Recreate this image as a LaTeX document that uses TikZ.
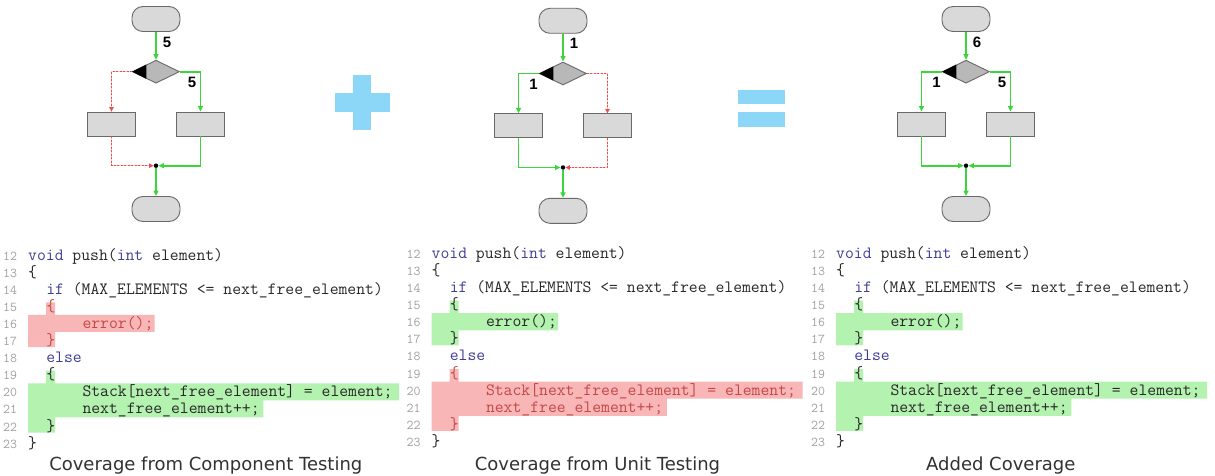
\documentclass[tikz,border=0pt]{standalone}
\usepackage{fontspec}
\setmainfont{DejaVu Sans}
\newfontfamily\numfont{Liberation Sans}
\usetikzlibrary{shapes.geometric,arrows.meta,calc}

\definecolor{passline}{RGB}{60,214,60}
\definecolor{missline}{RGB}{230,80,80}
\definecolor{missback}{RGB}{248,196,196}
\definecolor{shapefill}{RGB}{217,217,217}
\definecolor{decfill}{RGB}{184,184,184}
\definecolor{shapeedge}{RGB}{105,105,105}
\definecolor{opsign}{RGB}{140,214,248}
\definecolor{hlpass}{RGB}{180,242,176}
\definecolor{hlmiss}{RGB}{248,182,182}
\definecolor{codetext}{RGB}{40,40,40}
\definecolor{misstext}{RGB}{196,72,72}
\definecolor{kwcol}{RGB}{62,62,150}
\definecolor{lnumcol}{RGB}{160,160,160}
\definecolor{captext}{RGB}{50,50,50}

% character width and line pitch of the listings
\def\cw{9.05}
\def\lh{17.1}

\newcommand\kw[1]{\textcolor{kwcol}{#1}}

\tikzset{
  term/.style={draw=shapeedge, fill=shapefill, line width=0.9pt, rounded corners=11pt,
    minimum width=48pt, minimum height=25pt, inner sep=0},
  proc/.style={draw=shapeedge, fill=shapefill, line width=0.9pt,
    minimum width=48pt, minimum height=24pt, inner sep=0},
  dec/.style={diamond, draw=shapeedge, fill=decfill, line width=0.9pt,
    minimum width=47pt, minimum height=23pt, inner sep=0},
  junc/.style={circle, fill=black, minimum size=4.5pt, inner sep=0},
  pass/.style={color=passline, line width=1.8pt, -{Triangle[length=5.5pt,width=5pt]}},
  miss/.style={color=missline, line width=1.3pt, dash pattern=on 2pt off 1.5pt,
    preaction={draw=missback, solid, line width=1.3pt, arrows=-},
    -{Triangle[length=4.5pt,width=4.5pt]}},
  cnt/.style={font=\numfont\bfseries\fontsize{15}{15}\selectfont, inner sep=0, text=black},
  code/.style={anchor=base west, inner sep=0, text=codetext,
    font=\ttfamily\fontsize{17.2}{20}\selectfont},
  lnum/.style={anchor=base west, inner sep=0, text=lnumcol,
    font=\ttfamily\fontsize{13.5}{15}\selectfont},
  caption/.style={anchor=base, inner sep=0, text=captext,
    font=\fontsize{18}{22}\selectfont},
}

% flowchart shapes: #1 name prefix, #2 centre x, #3 vertical shift
\newcommand\flowshapes[3]{%
  \node[term] (#1t) at ({#2},{19+#3}) {};
  \node[dec]  (#1d) at ({#2},{71.7+#3}) {};
  \fill[black] (#1d.west) -- ($(#1d.west)!0.6!(#1d.north)$)
               -- ($(#1d.west)!0.6!(#1d.south)$) -- cycle;
  \node[proc] (#1l) at ({#2-44.5},{124+#3}) {};
  \node[proc] (#1r) at ({#2+44.5},{124+#3}) {};
  \node[junc] (#1j) at ({#2},{165.7+#3}) {};
  \node[term] (#1b) at ({#2},{209+#3}) {};
}

% listing: #1 name prefix, #2 x of column 0, #3 y of line 12,
% #4/#5 fill and text colour of the if-branch, #6/#7 of the else-branch
\newcommand\codepanel[7]{%
  \fill[#4] ({#2+2*\cw},{#3+3*\lh-4}) -- ({#2+3*\cw},{#3+3*\lh-4})
    -- ({#2+3*\cw},{#3+3.5*\lh}) -- ({#2+14*\cw},{#3+3.5*\lh})
    -- ({#2+14*\cw},{#3+4.5*\lh}) -- ({#2+3*\cw},{#3+4.5*\lh})
    -- ({#2+3*\cw},{#3+5*\lh+6.5}) -- ({#2},{#3+5*\lh+6.5})
    -- ({#2},{#3+3.5*\lh}) -- ({#2+2*\cw},{#3+3.5*\lh}) -- cycle;
  \fill[#6] ({#2+2*\cw},{#3+7*\lh-4}) -- ({#2+3*\cw},{#3+7*\lh-4})
    -- ({#2+3*\cw},{#3+7.5*\lh}) -- ({#2+41*\cw},{#3+7.5*\lh})
    -- ({#2+41*\cw},{#3+8.5*\lh}) -- ({#2+26*\cw},{#3+8.5*\lh})
    -- ({#2+26*\cw},{#3+9.5*\lh}) -- ({#2+3*\cw},{#3+9.5*\lh})
    -- ({#2+3*\cw},{#3+10*\lh+6.5}) -- ({#2},{#3+10*\lh+6.5})
    -- ({#2},{#3+7.5*\lh}) -- ({#2+2*\cw},{#3+7.5*\lh}) -- cycle;
  \foreach \n in {12,...,23}
    \node[lnum] (#1n\n) at ({#2-25},{#3+(\n-12)*\lh+5}) {\n};
  \node[code] (#1c12) at ({#2},{#3+5}) {\kw{void} push(\kw{int} element)};
  \node[code] (#1c13) at ({#2},{#3+\lh+5}) {\{};
  \node[code] (#1c14) at ({#2+2*\cw},{#3+2*\lh+5}) {\kw{if} (MAX\_ELEMENTS <= next\_free\_element)};
  \node[code, text=#5] (#1c15) at ({#2+2*\cw},{#3+3*\lh+5}) {\{};
  \node[code, text=#5] (#1c16) at ({#2+6*\cw},{#3+4*\lh+5}) {error();};
  \node[code, text=#5] (#1c17) at ({#2+2*\cw},{#3+5*\lh+5}) {\}};
  \node[code] (#1c18) at ({#2+2*\cw},{#3+6*\lh+5}) {\kw{else}};
  \node[code, text=#7] (#1c19) at ({#2+2*\cw},{#3+7*\lh+5}) {\{};
  \node[code, text=#7] (#1c20) at ({#2+6*\cw},{#3+8*\lh+5}) {Stack[next\_free\_element] = element;};
  \node[code, text=#7] (#1c21) at ({#2+6*\cw},{#3+9*\lh+5}) {next\_free\_element++;};
  \node[code, text=#7] (#1c22) at ({#2+2*\cw},{#3+10*\lh+5}) {\}};
  \node[code] (#1c23) at ({#2},{#3+11*\lh+5}) {\}};
}

\begin{document}
\begin{tikzpicture}[x=1pt, y=-1pt]
  \fill[white] (0,0) rectangle (1215,476);
  \useasboundingbox (0,0) rectangle (1215,476);

  % component testing
  \flowshapes{A}{156}{0}
  \draw[pass] (At) -- node[cnt, right=6pt, pos=0.36] {5} (Ad);
  \draw[pass] (Ad.east) -| node[cnt, left=3.5pt, pos=0.63] {5} (Ar);
  \draw[miss] (Ad.west) -| (Al);
  \draw[miss] (Al) |- (Aj);
  \draw[pass] (Ar) |- (Aj);
  \draw[pass] (Aj) -- (Ab);

  % unit testing
  \flowshapes{B}{563}{1.8}
  \draw[pass] (Bt) -- node[cnt, right=6pt, pos=0.36] {1} (Bd);
  \draw[pass] (Bd.west) -| node[cnt, right=10pt, pos=0.63] {1} (Bl);
  \draw[miss] (Bd.east) -| (Br);
  \draw[miss] (Br) |- (Bj);
  \draw[pass] (Bl) |- (Bj);
  \draw[pass] (Bj) -- (Bb);

  % combined
  \flowshapes{C}{966}{0}
  \draw[pass] (Ct) -- node[cnt, right=6pt, pos=0.36] {6} (Cd);
  \draw[pass] (Cd.west) -| node[cnt, right=10pt, pos=0.63] {1} (Cl);
  \draw[pass] (Cd.east) -| node[cnt, left=3.5pt, pos=0.63] {5} (Cr);
  \draw[pass] (Cl) |- (Cj);
  \draw[pass] (Cr) |- (Cj);
  \draw[pass] (Cj) -- (Cb);

  % plus and equals signs
  \fill[opsign] (353.3,75) rectangle (370.7,130);
  \fill[opsign] (335,93.3) rectangle (390,111.7);
  \fill[opsign] (738.3,90) rectangle (785,104.3);
  \fill[opsign] (738.3,112.3) rectangle (785,126.7);

  % listings
  \codepanel{P}{28}{255}{hlmiss}{misstext}{hlpass}{codetext}
  \codepanel{Q}{431.5}{253.3}{hlpass}{codetext}{hlmiss}{misstext}
  \codepanel{R}{836}{253.3}{hlpass}{codetext}{hlpass}{codetext}

  % captions
  \node[caption] (capA) at (205.8,470) {Coverage from Component Testing};
  \node[caption] (capB) at (597.5,470) {Coverage from Unit Testing};
  \node[caption] (capC) at (1000.8,470) {Added Coverage};
\end{tikzpicture}
\end{document}
